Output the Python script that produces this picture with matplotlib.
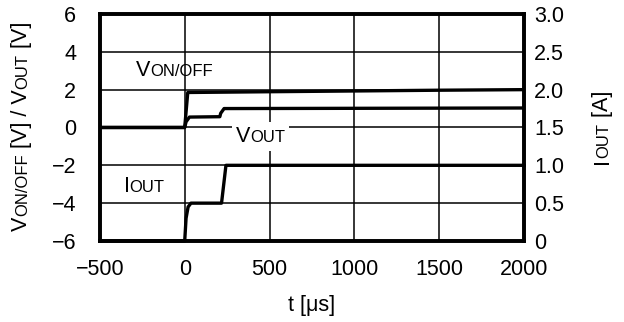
import matplotlib
matplotlib.use('Agg')
import matplotlib.pyplot as plt
from matplotlib.font_manager import FontProperties
from matplotlib.patches import Rectangle
from matplotlib.transforms import Bbox

# waveform data
t_von = [-500, 0, 18, 500, 1000, 1500, 2000]
v_von = [0, 0, 1.85, 1.89, 1.93, 1.97, 2.0]

t_vout = [-500, 0, 8, 28, 207, 212, 232, 2000]
v_vout = [0, 0, 0.3, 0.55, 0.57, 0.75, 1.0, 1.03]

t_iout = [-500, 0, 8, 20, 37, 217, 243, 2000]
i_iout = [0, 0, 0.3, 0.45, 0.5, 0.5, 1.0, 1.0]

x_ticks = [-500, 0, 500, 1000, 1500, 2000]
x_labels = ['\u2212500', '0', '500', '1000', '1500', '2000']
yl_ticks = [-6, -4, -2, 0, 2, 4, 6]
yl_labels = ['\u22126', '\u22124', '\u22122', '0', '2', '4', '6']
yr_ticks = [0, 0.5, 1.0, 1.5, 2.0, 2.5, 3.0]
yr_labels = ['0', '0.5', '1.0', '1.5', '2.0', '2.5', '3.0']

plt.rcParams['font.family'] = ['Liberation Sans', 'DejaVu Sans']
FS = 15.5
SM = 12

fig = plt.figure(figsize=(6.24, 3.22), dpi=100)
ax = fig.add_axes([0.160, 0.2516, 0.680, 0.705])
ax2 = ax.twinx()

ax.set_xlim(-500, 2000)
ax.set_ylim(-6, 6)
ax2.set_ylim(0, 3)

ax.set_xticks(x_ticks)
ax.set_xticklabels(x_labels, fontsize=FS)
ax.set_yticks(yl_ticks)
ax.set_yticklabels(yl_labels, fontsize=FS)
ax2.set_yticks(yr_ticks)
ax2.set_yticklabels(yr_labels, fontsize=FS)
ax.tick_params(axis='x', length=0, pad=13)
ax.tick_params(axis='y', length=0, pad=17)
ax2.tick_params(length=0, pad=7)

ax.grid(True, color='black', linewidth=1.1)
for a in (ax, ax2):
    for s in a.spines.values():
        s.set_linewidth(2.6)

ax.plot(t_von, v_von, color='black', linewidth=2.4, zorder=5)
ax.plot(t_vout, v_vout, color='black', linewidth=2.4, zorder=5)
ax2.plot(t_iout, i_iout, color='black', linewidth=2.4, zorder=5, clip_on=False)

renderer = fig.canvas.get_renderer()


def width_pt(s, size):
    w, h, d = renderer.get_text_width_height_descent(s, FontProperties(family='Liberation Sans', size=size), ismath=False)
    return w * 72.0 / fig.dpi


def caps_text(parts, xy, coords, rotation=0, center=False):
    # parts: list of (string, size); smaller ones fake small caps
    total = sum(width_pt(s, z) for s, z in parts)
    pos = -total / 2 if center else 0
    arts = []
    for s, z in parts:
        off = (0, pos) if rotation else (pos, 0)
        arts.append(ax.annotate(s, xy=xy, xycoords=coords, xytext=off, textcoords='offset points',
                                fontsize=z, ha='left', va='baseline', rotation=rotation,
                                rotation_mode='anchor', annotation_clip=False, zorder=7))
        pos += width_pt(s, z)
    return arts


caps_text([('V', FS), ('ON/OFF', SM)], (-285, 2.72), 'data')
caps_text([('I', FS), ('OUT', SM)], (-360, -3.42), 'data')
vout_lbl = caps_text([('V', FS), ('OUT', SM)], (302, -0.78), 'data')

ax.set_xlabel('t [\u03bcs]', fontsize=FS, labelpad=11)

caps_text([('V', FS), ('ON/OFF', SM), (' [V] / V', FS), ('OUT', SM), (' [V]', FS)],
          (27, 196), 'figure pixels', rotation=90, center=True)
caps_text([('I', FS), ('OUT', SM), (' [A]', FS)],
          (608, 195), 'figure pixels', rotation=90, center=True)

# white patch behind the VOUT label, hides the 0 V grid line
fig.canvas.draw()
bb = Bbox.union([a.get_window_extent(renderer) for a in vout_lbl])
bb = bb.expanded(1.0, 1.0).padded(4)
bb = bb.transformed(fig.transFigure.inverted())
ax.add_patch(Rectangle((bb.x0, bb.y0), bb.width, bb.height, transform=fig.transFigure,
                       facecolor='white', edgecolor='none', zorder=6))

fig.savefig('out.png', dpi=100)
